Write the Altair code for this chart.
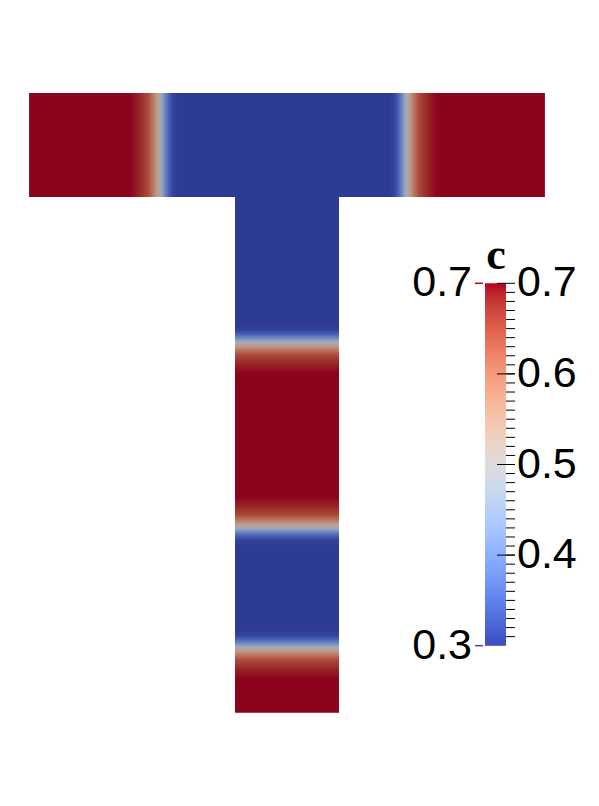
import altair as alt
import pandas as pd

# ---------------- data ----------------
# T-shaped domain (domain units, stem width = 1)
bar_x_range = [-2.48, 2.48]
bar_y_range = [0.0, 1.0]
stem_x_range = [-0.5, 0.5]
stem_y_range = [-4.96, 0.0]

# interface positions of the concentration field c
bar_interfaces = [-1.221, 1.154]            # along x in the top bar
bar_phases = ["high", "low", "high"]         # left -> right
stem_interfaces = [-1.404, -3.173, -4.337]  # along y in the stem
stem_phases = ["low", "high", "low", "high"]  # top -> bottom

# colour bar
cbar_range = [0.3, 0.7]
cbar_title = "c"
major_ticks = [0.7, 0.6, 0.5, 0.4]
major_labels = ["0.7", "0.6", "0.5", "0.4"]
minor_ticks = [round(0.31 + 0.01 * i, 2) for i in range(39)]
range_values = [0.7, 0.3]
range_labels = ["0.7", "0.3"]

# ---------------- styles ----------------
COOLWARM = [
    (59, 76, 192), (68, 90, 204), (77, 104, 215), (87, 117, 225), (98, 130, 234),
    (108, 142, 241), (119, 154, 247), (130, 165, 251), (141, 176, 254), (152, 185, 255),
    (163, 194, 255), (174, 201, 253), (184, 208, 249), (194, 213, 244), (204, 217, 238),
    (213, 219, 230), (221, 221, 221), (229, 216, 209), (236, 211, 197), (241, 204, 185),
    (245, 196, 173), (247, 187, 160), (247, 177, 148), (247, 166, 135), (244, 154, 123),
    (241, 141, 111), (236, 127, 99), (229, 112, 88), (222, 96, 77), (213, 80, 66),
    (203, 62, 56), (192, 40, 47), (180, 4, 38),
]


def cw(t, shade=1.0):
    t = min(max(t, 0.0), 1.0)
    pos = t * (len(COOLWARM) - 1)
    i = min(int(pos), len(COOLWARM) - 2)
    f = pos - i
    a, b = COOLWARM[i], COOLWARM[i + 1]
    rgb = [round((a[k] + (b[k] - a[k]) * f) * shade) for k in range(3)]
    return "#%02x%02x%02x" % tuple(rgb)


SHADE = 0.77
lo, hi = cbar_range
HIGH_COL = cw(1.0, SHADE)
LOW_COL = cw(0.0, SHADE)
PX = 104.0                 # pixels per domain unit
CX, TOPY = 279.0, 85.0     # plot-pixel position of x=0 and of the top of the bar
HIGH_W = 30 / PX           # width of transition on the high side
LOW_W = 18 / PX            # width of transition on the low side

# transition profile: (pixel offset from interface, c), from high side to low side
profile = [(-30, 0.70), (-20, 0.68), (-12, 0.65), (-7, 0.60), (-3.5, 0.55), (0, 0.50),
           (2.5, 0.45), (5, 0.40), (8.5, 0.35), (13, 0.31), (18, 0.30)]
stops = [alt.GradientStop(offset=(o + 30) / 48, color=cw((c - lo) / (hi - lo), SHADE))
         for o, c in profile]


def grad(x1, y1, x2, y2):
    return alt.Gradient(gradient="linear", stops=stops, x1=x1, y1=y1, x2=x2, y2=y2)


cbar_stops = [alt.GradientStop(offset=i / (len(COOLWARM) - 1), color=cw(i / (len(COOLWARM) - 1)))
              for i in range(len(COOLWARM))]

# ---------------- tables ----------------
bx = [bar_x_range[0]] + bar_interfaces + [bar_x_range[1]]
sy = [stem_y_range[1]] + stem_interfaces + [stem_y_range[0]]
stem_segs = pd.DataFrame(
    [dict(x=stem_x_range[0], x2=stem_x_range[1], y=sy[i], y2=sy[i + 1], phase=stem_phases[i])
     for i in range(len(stem_phases))]
)
bar_segs = pd.DataFrame(
    [dict(x=bx[i], x2=bx[i + 1], y=bar_y_range[0], y2=bar_y_range[1], phase=bar_phases[i])
     for i in range(len(bar_phases))]
)


def side_w(p):
    return HIGH_W if p == "high" else LOW_W


trans = []
for i, p in enumerate(bar_interfaces):
    L, R = bar_phases[i], bar_phases[i + 1]
    trans.append(dict(kind="h_" + ("hl" if L == "high" else "lh"),
                      x=p - side_w(L), x2=p + side_w(R), y=bar_y_range[0], y2=bar_y_range[1]))
for i, p in enumerate(stem_interfaces):
    T, B = stem_phases[i], stem_phases[i + 1]
    trans.append(dict(kind="v_" + ("hl" if T == "high" else "lh"),
                      x=stem_x_range[0], x2=stem_x_range[1], y=p + side_w(T), y2=p - side_w(B)))
trans = pd.DataFrame(trans)

# ---------------- field ----------------
xs = alt.Scale(domain=bar_x_range,
               range=[CX + bar_x_range[0] * PX, CX + bar_x_range[1] * PX], nice=False, zero=False)
ydom = [stem_y_range[0], bar_y_range[1]]
ys = alt.Scale(domain=ydom,
               range=[TOPY + (ydom[1] - ydom[0]) * PX, TOPY], nice=False, zero=False)
pcol = alt.Scale(domain=["high", "low"], range=[HIGH_COL, LOW_COL])


def plateau(df):
    return alt.Chart(df).mark_rect().encode(
        x=alt.X("x:Q", scale=xs, axis=None), x2="x2:Q",
        y=alt.Y("y:Q", scale=ys, axis=None), y2="y2:Q",
        color=alt.Color("phase:N", scale=pcol, legend=None),
    )


tbase = alt.Chart(trans).encode(
    x=alt.X("x:Q", scale=xs, axis=None), x2="x2:Q",
    y=alt.Y("y:Q", scale=ys, axis=None), y2="y2:Q",
)
g_layers = []
for kind, g in [("h_hl", grad(0, 0, 1, 0)), ("h_lh", grad(1, 0, 0, 0)),
                ("v_hl", grad(0, 0, 0, 1)), ("v_lh", grad(0, 1, 0, 0))]:
    g_layers.append(tbase.mark_rect(fill=g).transform_filter(alt.datum.kind == kind))

field = alt.layer(plateau(stem_segs), plateau(bar_segs), *g_layers)

# ---------------- colour bar ----------------
cs = alt.Scale(domain=cbar_range, range=[637.7, 275.3], nice=False, zero=False)

cbar_rect = alt.Chart(pd.DataFrame({"lo": [cbar_range[0]], "hi": [cbar_range[1]]})).mark_rect(
    fill=alt.Gradient(gradient="linear", stops=cbar_stops, x1=0, y1=1, x2=0, y2=0)
).encode(y=alt.Y("lo:Q", scale=cs, axis=None), y2="hi:Q", x=alt.value(477), x2=alt.value(498))

minor = alt.Chart(pd.DataFrame({"v": minor_ticks})).mark_rule(color="black", strokeWidth=1).encode(
    y=alt.Y("v:Q", scale=cs, axis=None), x=alt.value(498), x2=alt.value(507))
major_df = pd.DataFrame({"v": major_ticks, "label": major_labels})
major = alt.Chart(major_df).mark_rule(color="black", strokeWidth=1).encode(
    y=alt.Y("v:Q", scale=cs, axis=None), x=alt.value(489), x2=alt.value(507))
labels_r = alt.Chart(major_df).mark_text(
    align="left", baseline="middle", fontSize=43, font="Liberation Sans", color="black"
).encode(y=alt.Y("v:Q", scale=cs, axis=None), x=alt.value(509), text="label:N")

range_df = pd.DataFrame({"v": range_values, "label": range_labels})
labels_l = alt.Chart(range_df).mark_text(
    align="right", baseline="middle", fontSize=43, font="Liberation Sans", color="black"
).encode(y=alt.Y("v:Q", scale=cs, axis=None), x=alt.value(464), text="label:N")
range_ticks = alt.Chart(range_df).mark_rule(strokeWidth=1.5).encode(
    y=alt.Y("v:Q", scale=cs, axis=None), x=alt.value(467), x2=alt.value(475),
    color=alt.Color("label:N", scale=alt.Scale(domain=range_labels, range=[cw(1.0), cw(0.0)]), legend=None),
)
title = alt.Chart(pd.DataFrame({"t": [cbar_title]})).mark_text(
    align="center", baseline="alphabetic", fontSize=44, font="Liberation Serif",
    fontWeight="bold", color="black"
).encode(x=alt.value(488), y=alt.value(261), text="t:N")

cbar = alt.layer(cbar_rect, minor, major, labels_r, labels_l, range_ticks, title).resolve_scale(color="independent")

chart = alt.layer(field, cbar).resolve_scale(
    x="independent", y="independent", color="independent"
).properties(width=580, height=785, padding=0, autosize="none").configure_view(stroke=None)

chart.save("out.html", embed_options={"renderer": "svg", "actions": False})
